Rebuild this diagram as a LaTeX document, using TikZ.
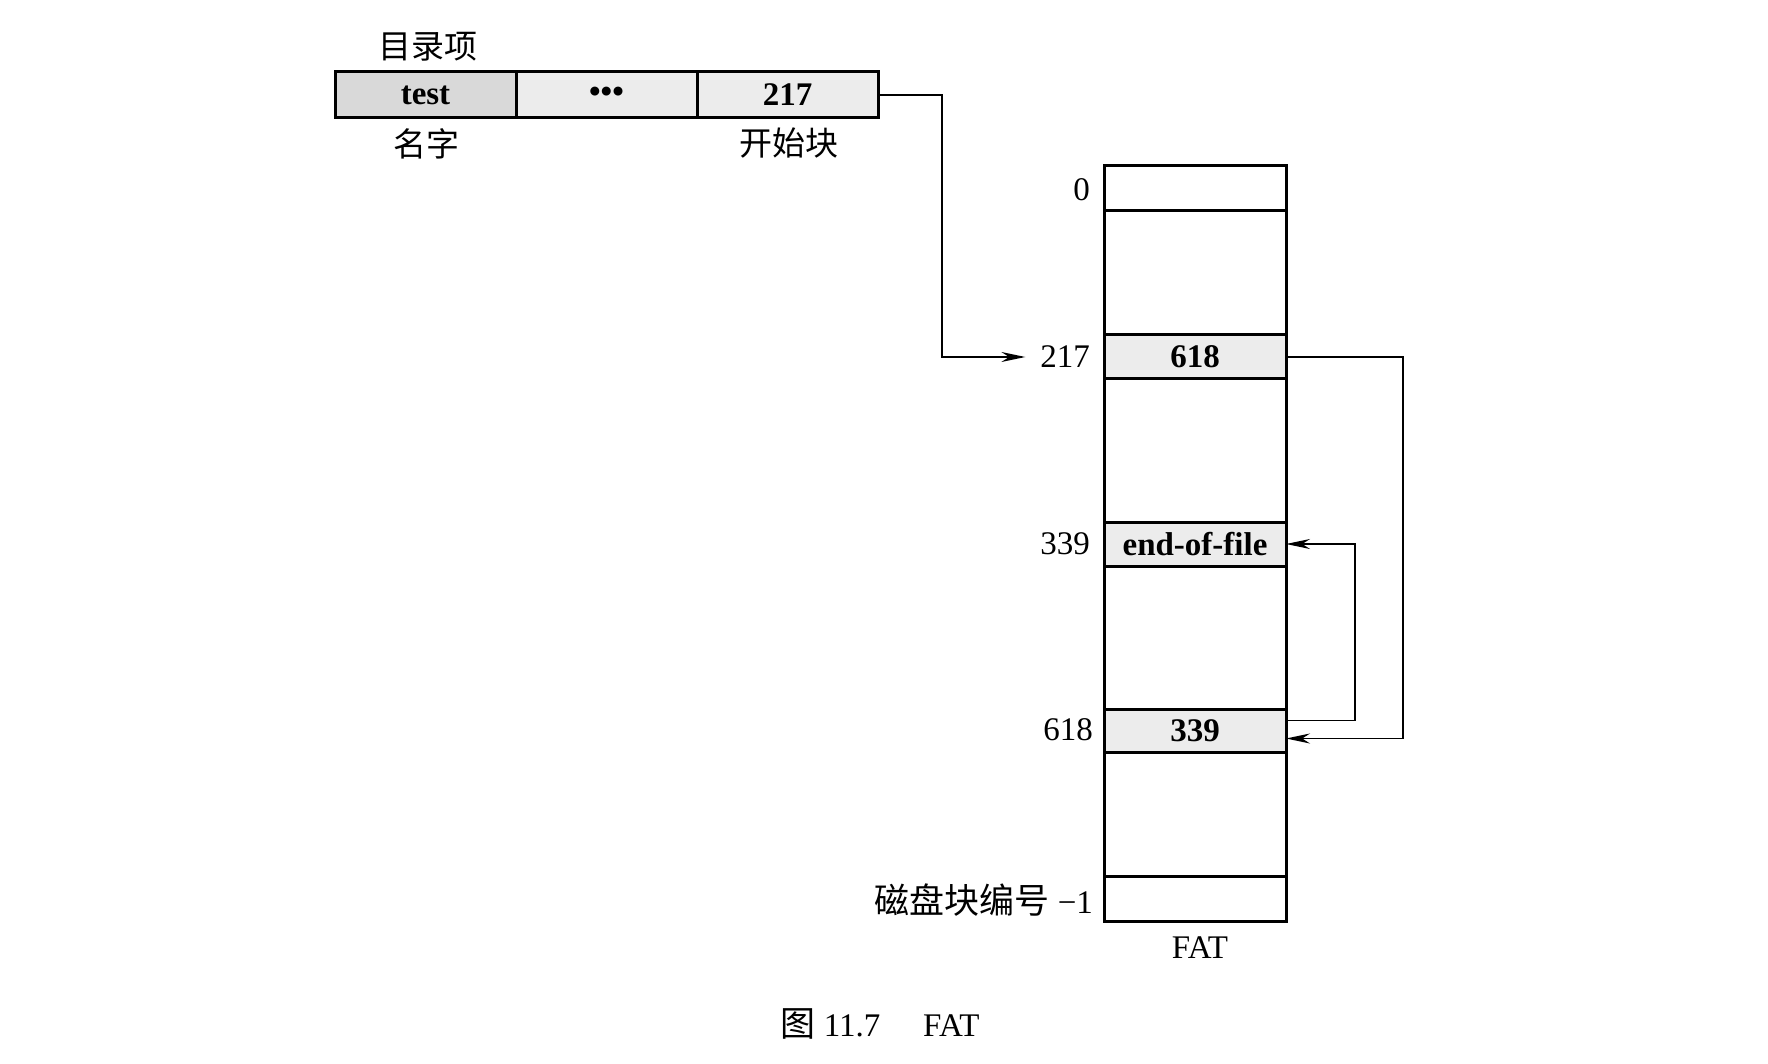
\documentclass[tikz,border=0pt]{standalone}
\usepackage{fontspec}
\setmainfont{Liberation Serif}
\newfontfamily\cjk{Noto Sans CJK SC}
\usetikzlibrary{arrows.meta}
\begin{document}
\begin{tikzpicture}[x=0.5pt,y=-0.5pt,
  every node/.style={font=\fontsize{16.5}{20}\selectfont},
  cell/.style={draw, line width=1.5pt, inner sep=0pt, outer sep=0pt, minimum width=90.5pt, minimum height=23pt, font=\fontsize{16.5}{20}\selectfont\bfseries},
  fat/.style={draw, line width=1.5pt, inner sep=0pt, outer sep=0pt, minimum width=91pt, font=\fontsize{16.5}{20}\selectfont\bfseries},
  shade/.style={fill=gray!15},
  lab/.style={anchor=east},
  conn/.style={line width=0.75pt},
  tip/.style={-{Stealth[length=12pt,width=5pt]}}
]
\useasboundingbox (0,0) rectangle (1768,1064);
% directory entry
\node[cell, fill=gray!30] (d1) at (425.5,95) {test};
\node[cell, shade] (d2) at (606.5,95) {\raisebox{-2pt}{•••}};
\node[cell, shade] (d3) at (787.5,95) {217};
\node (tdir) at (428,47) {\cjk 目录项};
\node (tname) at (426,144) {\cjk 名字};
\node (tstart) at (789,143) {\cjk 开始块};
% FAT
\node[fat, minimum height=22.5pt] (f0) at (1195,188.5) {};
\node[fat, minimum height=62pt] (g1) at (1195,273) {};
\node[fat, shade, minimum height=22pt] (f217) at (1195,357) {618};
\node[fat, minimum height=71.5pt] (g2) at (1195,450.5) {};
\node[fat, shade, minimum height=22pt] (f339) at (1195,544) {end-of-file};
\node[fat, minimum height=71.5pt] (g3) at (1195,637.5) {};
\node[fat, shade, minimum height=21.5pt] (f618) at (1195,730.5) {339};
\node[fat, minimum height=62pt] (g4) at (1195,814) {};
\node[fat, minimum height=22.5pt] (flast) at (1195,898.5) {};
% labels
\node[lab] (l0) at (1097,190) {0};
\node[lab] (l217) at (1097,357) {217};
\node[lab] (l339) at (1097,544) {339};
\node[lab] (l618) at (1100,730) {618};
\node[lab] (lnum) at (1100,900) {{\cjk\fontsize{17.5}{20}\selectfont 磁盘块编号} −1};
\node (lfat) at (1200,948) {FAT};
\node (cap) at (880,1024) {{\cjk\fontsize{17.5}{20}\selectfont 图} 11.7\hspace{1.3em}FAT};
% connectors
\coordinate (c1) at (942,95);
\draw[conn, tip] (d3.east) -- (c1) |- ([xshift=-4pt]l217.west);
\draw[conn, tip] (f217.east) -- ++(117,0) |- ([yshift=-4pt]f618.east);
\draw[conn, tip] ([yshift=5pt]f618.east) -- ++(69,0) |- (f339.east);
\end{tikzpicture}
\end{document}
